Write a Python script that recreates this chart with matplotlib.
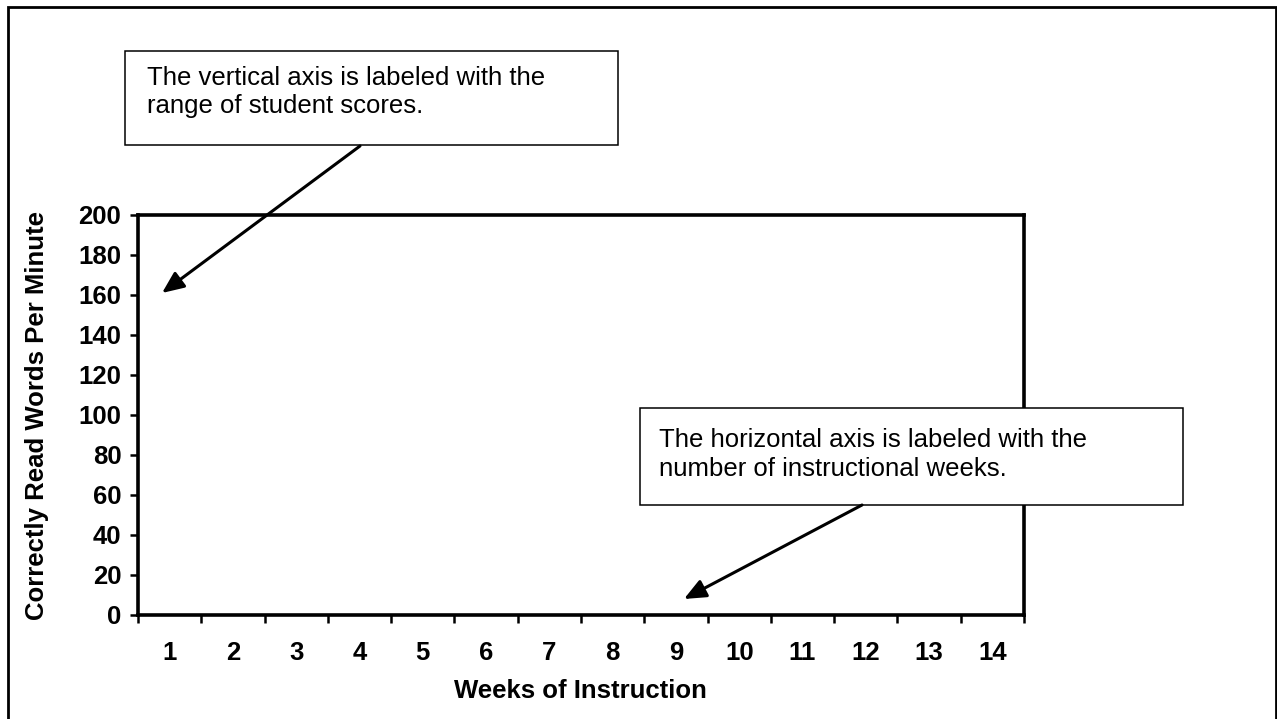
import matplotlib
matplotlib.use("Agg")
import matplotlib.pyplot as plt
from matplotlib.patches import Rectangle, FancyArrowPatch
import numpy as np

plt.rcParams['font.family'] = ['Liberation Sans', 'DejaVu Sans']

weeks = [str(i) for i in range(1, 15)]
y_ticks = list(range(0, 201, 20))
y_label = "Correctly Read Words Per Minute"
x_label = "Weeks of Instruction"
note_v = ["The vertical axis is labeled with the", "range of student scores."]
note_h = ["The horizontal axis is labeled with the", "number of instructional weeks."]

W, H = 1277, 719
FS = 18.5
fig = plt.figure(figsize=(W / 100, H / 100), dpi=100)

def fx(px):
    return px / W

def fy(py):
    return 1 - py / H

# plot area
L, R, T, B = 138, 1024, 215, 615
ax = fig.add_axes([fx(L), fy(B), fx(R) - fx(L), fy(T) - fy(B)])
n = len(weeks)
ax.set_xlim(0.5, n + 0.5)
ax.set_ylim(0, 200)
ax.set_yticks(y_ticks)
ax.set_yticklabels([str(v) for v in y_ticks], fontsize=FS, fontweight='bold')
ax.set_xticks(np.arange(0.5, n + 1, 1.0))
ax.set_xticklabels([])
ax.set_xticks(np.arange(1, n + 1), minor=True)
ax.set_xticklabels(weeks, minor=True, fontsize=FS, fontweight='bold')
ax.tick_params(axis='x', which='minor', length=0, pad=19)
ax.tick_params(axis='x', which='major', length=5.5, width=1.8, direction='out')
ax.tick_params(axis='y', which='major', length=6, width=1.8, direction='out', pad=6)
for s in ax.spines.values():
    s.set_linewidth(2.6)
ax.set_ylabel(y_label, fontsize=FS, fontweight='bold', va='center')
ax.yaxis.set_label_coords((37 - L) / (R - L), 0.5)
ax.set_xlabel(x_label, fontsize=FS, fontweight='bold', va='center')
ax.xaxis.set_label_coords((580 - L) / (R - L), (B - 691) / (B - T))

# outer border
fig.patches.append(Rectangle((fx(8), fy(725)), fx(1276) - fx(8), fy(7) - fy(725),
                             transform=fig.transFigure, fill=False,
                             edgecolor='black', linewidth=2, clip_on=False))

# annotation boxes
def note(x0, y0, x1, y1, lines, tx, baselines):
    fig.patches.append(Rectangle((fx(x0), fy(y1)), fx(x1) - fx(x0), fy(y0) - fy(y1),
                                 transform=fig.transFigure, facecolor='white',
                                 edgecolor='black', linewidth=1.1))
    for line, by in zip(lines, baselines):
        fig.text(fx(tx), fy(by), line, fontsize=FS, ha='left', va='baseline')

def arrow(x0, y0, x1, y1):
    a = FancyArrowPatch((fx(x0), fy(y0)), (fx(x1), fy(y1)),
                        transform=fig.transFigure,
                        arrowstyle='-|>,head_length=0.6,head_width=0.26',
                        mutation_scale=22, linewidth=2.2, color='black',
                        shrinkA=0, shrinkB=0)
    fig.patches.append(a)

note(125, 51, 618, 145, note_v, 147, [85, 113])
arrow(360, 146, 162, 293)
note(640, 408, 1183, 505, note_h, 659, [447, 476])
arrow(862, 505, 684, 599)

fig.savefig("out.png", dpi=100)
